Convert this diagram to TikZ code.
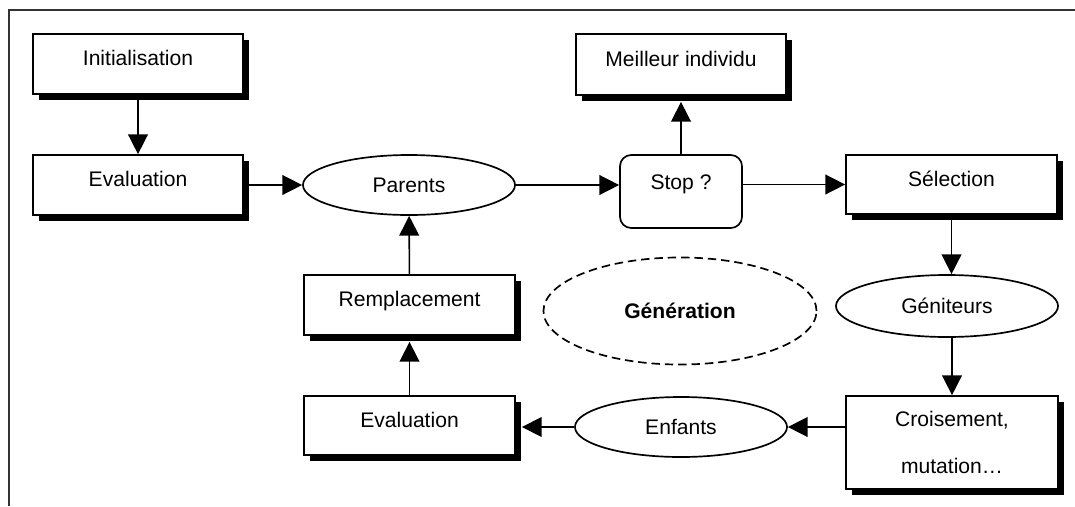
\documentclass[tikz,border=0pt]{standalone}
\usepackage{fontspec}
\setmainfont{Liberation Sans}
\usetikzlibrary{arrows.meta,shapes.geometric,shadows}
\begin{document}
\begin{tikzpicture}[x=0.025cm,y=-0.025cm]
    \tikzstyle{arrow} = [line width=1.1pt, -{Triangle[length=14pt, width=14pt]}]
    \tikzstyle{box} = [rectangle, draw = black, line width=1.2pt, fill=white, minimum width=5.25cm, minimum height=1.5cm, inner sep=0pt, text height=11pt, text depth=8.7pt, font=\fontsize{15}{18}\selectfont, drop shadow={shadow xshift=0.15cm, shadow yshift=-0.15cm, fill=black, opacity=1}]
    \tikzstyle{oval} = [ellipse, draw = black, line width=1.2pt, minimum width=5.3cm, minimum height=1.5cm, inner sep=0pt, font=\fontsize{15}{18}\selectfont]
    \useasboundingbox (0,0) rectangle (1075,506);
    \draw[line width=1.4pt, black!80] (1075,10) -- (9,10) -- (9,506);
    \node[box](Init) at (138,64){Initialisation};
    \node[box](Eval1) at (138,185){Evaluation};
    \node[oval](Par) at (409,185){Parents};
    \node[rectangle, rounded corners=8pt, draw = black, line width=1.2pt, minimum width=3.05cm, minimum height=1.825cm, inner sep=0pt, text height=11pt, text depth=13.7pt, font=\fontsize{15}{18}\selectfont](Stop) at (681,191.5){Stop ?};
    \node[box, minimum height=1.525cm](Best) at (681,64.5){Meilleur individu};
    \node[box, minimum width=5.275cm, minimum height=1.475cm](Sel) at (951.5,184.5){Sélection};
    \node[oval, minimum width=5.55cm, minimum height=1.55cm](Gen) at (947,306){Géniteurs};
    \node[box, minimum width=5.3cm, minimum height=2.325cm, text height=, text depth=, align=center](Cross) at (952,442.5){Croisement,\\[16pt]mutation…};
    \node[oval](Enf) at (681,427){Enfants};
    \node[box, minimum width=5.275cm, minimum height=1.475cm](Eval2) at (409.5,425.5){Evaluation};
    \node[box, minimum width=5.275cm](Rep) at (409.5,305){Remplacement};
    \node[oval, dash pattern=on 6pt off 3.5pt, minimum width=6.825cm, minimum height=2.675cm, font=\fontsize{15}{18}\selectfont\bfseries](Cycle) at (680,311){Génération};
    \draw[arrow] (Init)--(Eval1);
    \draw[arrow] (Eval1)--(Par);
    \draw[arrow] (Par.east)--(Par.east -| Stop.west);
    \draw[arrow, shorten >=4.3pt] (Stop)--(Best);
    \draw[arrow] (Sel -| Stop.east)--(Sel);
    \draw[arrow] (Sel.south)--(Sel.south |- Gen.north);
    \draw[arrow] (Cross.north |- Gen.south)--(Cross.north);
    \draw[arrow] (Enf.east -| Cross.west)--(Enf.east);
    \draw[arrow, shorten >=4.3pt] (Enf.west)--(Enf.west -| Eval2.east);
    \draw[arrow, shorten >=4.3pt] (Eval2)--(Rep);
    \draw[arrow] (Rep)--(Par);
\end{tikzpicture}
\end{document}
